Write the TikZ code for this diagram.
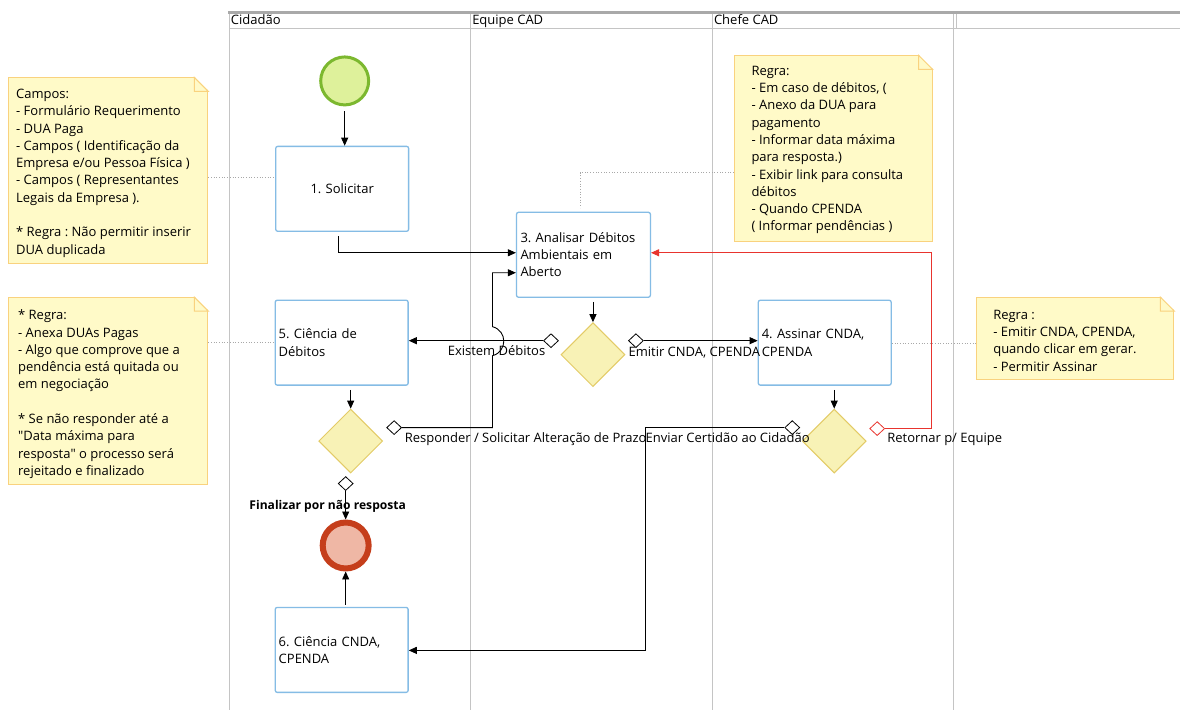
\documentclass[tikz,border=0pt]{standalone}
\usepackage{fontspec}
\setmainfont{Open Sans}
\usetikzlibrary{arrows.meta,shapes.geometric,calc}
\definecolor{taskblue}{HTML}{85BCE5}
\definecolor{gatefill}{HTML}{F8F2B6}
\definecolor{gatedraw}{HTML}{E3CB66}
\definecolor{notefill}{HTML}{FFFAC8}
\definecolor{notedraw}{HTML}{F9D27E}
\definecolor{startfill}{HTML}{DEF19B}
\definecolor{startdraw}{HTML}{7CB82F}
\definecolor{endfill}{HTML}{EFB7A5}
\definecolor{enddraw}{HTML}{C53E1B}
\definecolor{lanegray}{HTML}{C4C4C4}
\definecolor{headgray}{HTML}{A9A9A9}
\definecolor{assocgray}{HTML}{A8A8A8}
\definecolor{backred}{HTML}{E8342E}
\frenchspacing
\newcommand\myfs{\fontsize{13}{17.3}\selectfont}
\newcommand\notefold[1]{%
  \fill[white] ([xshift=-14pt,yshift=1pt]#1.north east) -- ([xshift=1pt,yshift=1pt]#1.north east) -- ([xshift=1pt,yshift=-14pt]#1.north east) -- cycle;
  \draw[notedraw,line width=1pt,fill=notefill] ([xshift=-14pt]#1.north east) -- ([xshift=-14pt,yshift=-14pt]#1.north east) -- ([yshift=-14pt]#1.north east) -- cycle;}
\begin{document}
\begin{tikzpicture}[x=1pt,y=-1pt,font=\myfs,
  task/.style={draw=taskblue,line width=1.3pt,rounded corners=2pt,fill=white,minimum width=133pt,minimum height=85pt,inner xsep=3.5pt,inner ysep=0pt,text width=126pt,align=left},
  gate/.style={diamond,draw=gatedraw,fill=gatefill,line width=1pt,minimum width=64pt,minimum height=64pt,inner sep=0pt},
  cond/.style={diamond,draw=black,fill=white,line width=0.8pt,minimum width=15pt,minimum height=14pt,inner sep=0pt},
  flow/.style={line width=0.9pt,-{Triangle[length=8pt,width=7pt]}},
  note/.style={draw=notedraw,fill=notefill,line width=1pt,anchor=north west,inner sep=0pt},
  notetext/.style={anchor=north west,inner sep=0pt,align=left},
  assoc/.style={draw=assocgray,dotted,line width=0.7pt},
  lbl/.style={inner sep=0pt,anchor=base},
  lanehead/.style={inner sep=0pt,anchor=base west}]
% background and pool
\fill[white] (0,0) rectangle (1181,711);
\draw[lanegray,line width=1.2pt] (229.5,28.5) -- (1181,28.5);
\foreach \x in {229.5,471,713,954.5} \draw[lanegray,line width=1.5pt] (\x,12) -- (\x,711);
\draw[lanegray,line width=1.5pt] (957.5,12) -- (957.5,28.5);
\draw[headgray,line width=2.2pt] (228.7,12.5) -- (1181,12.5);
\node[lanehead] (l1) at (231,25) {Cidadão};
\node[lanehead] (l2) at (472.5,25) {Equipe CAD};
\node[lanehead] (l3) at (714.5,25) {Chefe CAD};
% notes
\node[note,minimum width=199pt,minimum height=186pt] (n1) at (8.5,77.5) {};
\notefold{n1}
\node[notetext] (n1t) at (16,89) {Campos:\\- Formulário Requerimento\\- DUA Paga\\- Campos ( Identificação da\\Empresa e/ou Pessoa Física )\\- Campos ( Representantes\\Legais da Empresa ).\\[17.3pt]* Regra : Não permitir inserir\\DUA duplicada};
\node[note,minimum width=198pt,minimum height=186pt] (n2) at (734.5,55.5) {};
\notefold{n2}
\node[notetext] (n2t) at (752,66) {Regra:\\- Em caso de débitos, (\\- Anexo da DUA para\\pagamento\\- Informar data máxima\\para resposta.)\\- Exibir link para consulta\\débitos\\- Quando CPENDA\\( Informar pendências )};
\node[note,minimum width=199pt,minimum height=187pt] (n3) at (8.5,297.5) {};
\notefold{n3}
\node[notetext] (n3t) at (18,310) {* Regra:\\- Anexa DUAs Pagas\\- Algo que comprove que a\\pendência está quitada ou\\em negociação\\[17.3pt]* Se não responder até a\\\textquotedbl Data máxima para\\resposta\textquotedbl{} o processo será\\rejeitado e finalizado};
\node[note,minimum width=198pt,minimum height=82pt] (n4) at (976.5,297.5) {};
\notefold{n4}
\node[notetext] (n4t) at (994,310) {Regra :\\- Emitir CNDA, CPENDA,\\quando clicar em gerar.\\- Permitir Assinar};
% tasks
\node[task,align=center] (b1) at (342.5,189) {1. Solicitar};
\node[task,minimum width=134pt] (b3) at (584,255) {3. Analisar Débitos\\Ambientais em\\Aberto};
\node[task] (b5) at (342,343) {5. Ciência de\\Débitos};
\node[task] (b4) at (825.5,343) {4. Assinar CNDA,\\CPENDA};
\node[task] (b6) at (342,650.5) {6. Ciência CNDA,\\CPENDA};
% gateways and events
\node[gate] (g1) at (593.5,355) {};
\node[gate] (g2) at (351,441.5) {};
\node[gate] (g3) at (835,441.5) {};
\node[circle,draw=startdraw,fill=startfill,line width=3pt,minimum size=48pt,inner sep=0pt] (s) at (345,81) {};
\node[circle,draw=enddraw,fill=endfill,line width=6pt,minimum size=46pt,inner sep=0pt] (e) at (346,546) {};
% associations
\draw[assoc] (n1.east |- 0,178) -- (b1.west |- 0,178);
\draw[assoc] (n3.east |- 0,343) -- (b5.west |- 0,343);
\draw[assoc] (b4.east |- 0,343.5) -- (n4.west |- 0,343.5);
\draw[assoc] (n2.west |- 0,173) -- (580.5,173) -- (580.5,208);
% labels
\node[lbl] (t1) at (497,356) {Existem Débitos};
\node[lbl] (t2) at (695,356.5) {Emitir CNDA, CPENDA};
\node[lbl,anchor=base west] (t3) at (405,443) {Responder / Solicitar Alteração de Prazo};
\node[lbl,anchor=base west] (t4) at (646,443) {Enviar Certidão ao Cidadão};
\node[lbl,anchor=base west] (t5) at (888,443) {Retornar p/ Equipe};
\node[lbl,font=\fontsize{12.1}{15}\selectfont\bfseries] (t6) at (328,510) {Finalizar por não resposta};
% condition markers
\node[cond] (m1) at (551.5,341) {};
\node[cond] (m2) at (636.5,341) {};
\node[cond] (m3) at (394.5,428) {};
\node[cond] (m4) at (793,428) {};
\node[cond,draw=backred] (m5) at (878,429) {};
\node[cond] (m6) at (346,484) {};
% flows
\draw[flow] ([yshift=-5pt]s.south) -- (b1.north -| s.south);
\draw[flow] ([xshift=-4pt,yshift=-4.5pt]b1.south) |- ([yshift=2pt]b3.west);
\draw[flow] ([xshift=9.5pt,yshift=-4pt]b3.south) -- (g1.north);
\draw[flow] (m1.west) -- (m1.west -| b5.east);
\draw[flow] (m2.east) -- (m2.east -| b4.west);
\draw[flow] ([xshift=9pt,yshift=-4pt]b5.south) -- (g2.north);
\draw[flow] ([xshift=9.5pt,yshift=-4pt]b4.south) -- (g3.north);
\draw[flow] (m3.east) -- (493,428) -- (493,356) .. controls (508,352) and (508,331) .. (493,327) -- (493,273) -- (b3.west |- 0,273);
\draw[flow] (m4.west) -- (646,428) -- (646,651) -- (b6.east |- 0,651);
\draw[flow,backred] (m5.east) -- (932,429) -- (932,253) -- (b3.east |- 0,253);
\draw[flow] (m6.south) -- (e.north);
\draw[flow] ([yshift=2pt]b6.north -| e.south) -- (e.south);
\end{tikzpicture}
\end{document}
